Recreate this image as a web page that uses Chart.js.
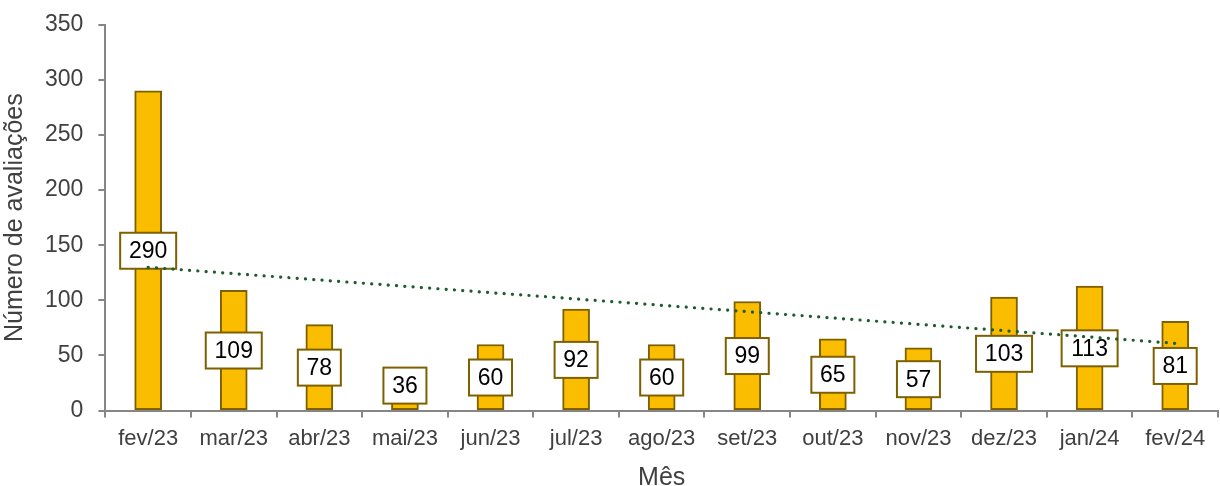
<!DOCTYPE html>
<html>
<head>
<meta charset="utf-8">
<script src="https://cdn.jsdelivr.net/npm/chart.js@4"></script>
<style>
  html, body { margin: 0; padding: 0; background: #fff; }
  #wrap { width: 1220px; height: 486px; }
</style>
</head>
<body>
<div id="wrap"><canvas id="chart"></canvas></div>
<script>
// data
const months = ['fev/23', 'mar/23', 'abr/23', 'mai/23', 'jun/23', 'jul/23', 'ago/23',
                'set/23', 'out/23', 'nov/23', 'dez/23', 'jan/24', 'fev/24'];
const reviews = [290, 109, 78, 36, 60, 92, 60, 99, 65, 57, 103, 113, 81];
// linear trend line, only its two ends
const trend = [130, null, null, null, null, null, null, null, null, null, null, null, 61];
const yTicks = [0, 50, 100, 150, 200, 250, 300, 350];

const axisGray = '#868686';
const textGray = '#404040';
const barBorder = '#7F6000';
const fontFam = '"Liberation Sans", Arial, sans-serif';

// boxed value labels in the middle of each bar
const boxLabels = {
    id: 'boxLabels',
    afterDatasetsDraw(chart) {
        const ctx = chart.ctx;
        const meta = chart.getDatasetMeta(0);
        const yScale = chart.scales.y;
        ctx.save();
        ctx.font = '23px ' + fontFam;
        ctx.textAlign = 'center';
        ctx.textBaseline = 'middle';
        meta.data.forEach((bar, i) => {
            const v = reviews[i];
            const cy = Math.min(yScale.getPixelForValue(v / 2), yScale.bottom - 25);
            const w = v >= 100 ? 56 : 43;
            const h = 36;
            ctx.fillStyle = '#fff';
            ctx.fillRect(bar.x - w / 2, cy - h / 2, w, h);
            ctx.strokeStyle = barBorder;
            ctx.lineWidth = 2;
            ctx.strokeRect(bar.x - w / 2, cy - h / 2, w, h);
            ctx.fillStyle = '#000';
            ctx.fillText(String(v), bar.x, cy + 1);
        });
        ctx.restore();
    }
};

// draw the trend line last so it sits over the label boxes
const trendOnTop = {
    id: 'trendOnTop',
    afterDraw(chart) {
        const meta = chart.getDatasetMeta(1);
        const pts = meta.data.filter((p, i) => trend[i] !== null);
        const ctx = chart.ctx;
        ctx.save();
        ctx.strokeStyle = '#1E5C2E';
        ctx.lineWidth = 3.2;
        ctx.lineCap = 'round';
        ctx.setLineDash([0.1, 8.2]);
        ctx.beginPath();
        ctx.moveTo(pts[0].x, pts[0].y);
        ctx.lineTo(pts[pts.length - 1].x, pts[pts.length - 1].y);
        ctx.stroke();
        ctx.restore();
    }
};

const ctx = document.getElementById('chart').getContext('2d');
new Chart(ctx, {
    data: {
        labels: months,
        datasets: [{
            type: 'bar',
            label: 'Número de avaliações',
            data: reviews,
            backgroundColor: '#FABD00',
            borderColor: barBorder,
            borderWidth: 2,
            borderSkipped: false,
            barThickness: 27,
            order: 2
        }, {
            type: 'line',
            label: 'Tendência',
            data: trend,
            spanGaps: true,
            borderWidth: 0,
            borderColor: 'rgba(0,0,0,0)',
            pointRadius: 0,
            order: 1
        }]
    },
    options: {
        responsive: true,
        maintainAspectRatio: false,
        animation: false,
        layout: { padding: { top: 0, right: 2, left: 0, bottom: -7 } },
        plugins: {
            legend: { display: false },
            tooltip: { enabled: false }
        },
        scales: {
            x: {
                offset: true,
                grid: {
                    offset: true,
                    drawOnChartArea: false,
                    drawTicks: true,
                    tickLength: 7,
                    color: axisGray,
                    lineWidth: 2
                },
                border: { color: axisGray, width: 2 },
                ticks: {
                    color: textGray,
                    font: { family: fontFam, size: 22 },
                    padding: 8,
                    maxRotation: 0
                },
                title: {
                    display: true,
                    text: 'Mês',
                    color: textGray,
                    font: { family: fontFam, size: 25 },
                    padding: { top: 3, bottom: 0 }
                }
            },
            y: {
                min: 0,
                max: 350,
                afterBuildTicks(axis) {
                    axis.ticks = yTicks.map(v => ({ value: v }));
                },
                grid: {
                    drawOnChartArea: false,
                    drawTicks: true,
                    tickLength: 7,
                    color: axisGray,
                    lineWidth: 2
                },
                border: { color: axisGray, width: 2 },
                ticks: {
                    color: textGray,
                    font: { family: fontFam, size: 23, lineHeight: 0.85 },
                    padding: 15
                },
                title: {
                    display: true,
                    text: 'Número de avaliações',
                    color: textGray,
                    font: { family: fontFam, size: 25 },
                    padding: { top: 0, bottom: 0 }
                }
            }
        }
    },
    plugins: [boxLabels, trendOnTop]
});
</script>
</body>
</html>
